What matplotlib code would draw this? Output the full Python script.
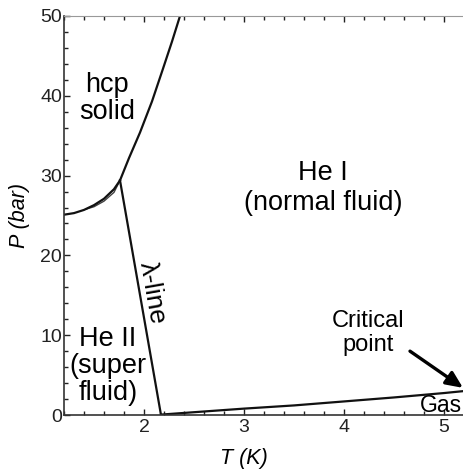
import numpy as np
import matplotlib
matplotlib.use("Agg")
import matplotlib.pyplot as plt
from matplotlib.ticker import MultipleLocator

plt.rcParams['font.family'] = ['Liberation Sans', 'DejaVu Sans']

# melting curve (solid / liquid)
melt_low_T = [1.2, 1.3, 1.4, 1.5, 1.6, 1.7, 1.76]
melt_low_P = [25.1, 25.3, 25.7, 26.3, 27.1, 28.3, 29.4]
melt_inner_T = [1.42, 1.5, 1.6, 1.7, 1.76]
melt_inner_P = [25.8, 26.1, 26.8, 27.9, 29.4]
melt_high_T = [1.76, 1.85, 1.96, 2.08, 2.19, 2.28, 2.36]
melt_high_P = [29.4, 32.2, 35.4, 39.3, 43.4, 46.8, 50.0]

# lambda line
lam_T = [1.76, 2.17]
lam_P = [29.4, 0.0]

# vapour pressure curve up to critical point
vap_T = [2.17, 2.5, 3.0, 3.5, 4.0, 4.5, 5.0, 5.2]
vap_P = [0.05, 0.35, 0.8, 1.2, 1.7, 2.2, 2.75, 3.0]

fig = plt.figure(figsize=(4.64, 4.70), dpi=100)
ax = fig.add_axes([64/464, 55/470, 400/464, 399/470])

lc = '#111111'
ax.plot(melt_low_T, melt_low_P, color=lc, lw=1.6)
ax.plot(melt_inner_T, melt_inner_P, color=lc, lw=1.0, alpha=0.8)
ax.plot(melt_high_T, melt_high_P, color=lc, lw=1.6)
ax.plot(lam_T, lam_P, color=lc, lw=1.6)
ax.plot(vap_T, vap_P, color=lc, lw=1.6)

ax.set_xlim(1.2, 5.2)
ax.set_ylim(0, 50)
ax.xaxis.set_major_locator(MultipleLocator(1))
ax.xaxis.set_minor_locator(MultipleLocator(0.2))
ax.yaxis.set_major_locator(MultipleLocator(10))
ax.yaxis.set_minor_locator(MultipleLocator(2))
ax.tick_params(which='both', direction='in', top=True, right=False,
               labelsize=14, colors='#222222')
ax.tick_params(axis='x', pad=3)
ax.tick_params(axis='y', pad=1.5)
ax.tick_params(which='major', length=4.5, width=1)
ax.tick_params(which='minor', length=3, width=1)
ax.spines['right'].set_visible(False)
ax.spines['top'].set_color('#999999')
for s in ['left', 'bottom']:
    ax.spines[s].set_color('#333333')
    ax.spines[s].set_linewidth(1.2)

ax.set_xlabel('T (K)', fontsize=15.5, style='italic')
ax.set_ylabel('P (bar)', fontsize=15.5, style='italic')
ax.xaxis.set_label_coords(0.45, -0.108)
ax.yaxis.set_label_coords(-0.11, 0.5)
ax.xaxis.label.set_va('center')
ax.yaxis.label.set_va('center')

fs = 19.5
ax.text(1.63, 39.6, 'hcp\nsolid', ha='center', va='center', fontsize=fs, linespacing=1.05)
ax.text(3.79, 28.5, 'He I\n(normal fluid)', ha='center', va='center', fontsize=fs, linespacing=1.2)
ax.text(1.64, 6.2, 'He II\n(super\nfluid)', ha='center', va='center', fontsize=fs, linespacing=1.05)
ax.text(2.08, 15.3, 'λ-line', ha='center', va='center', fontsize=19, rotation=-80)
ax.text(4.24, 10.25, 'Critical\npoint', ha='center', va='center', fontsize=17, linespacing=1.15)
ax.text(4.97, 1.25, 'Gas', ha='center', va='center', fontsize=16.5)
ax.annotate('', xy=(5.19, 3.4), xytext=(4.66, 8.0),
            arrowprops=dict(arrowstyle='-|>,head_length=1.0,head_width=0.45',
                            color='black', lw=2.4, shrinkA=0, shrinkB=0))

fig.savefig('out.png', dpi=100)
